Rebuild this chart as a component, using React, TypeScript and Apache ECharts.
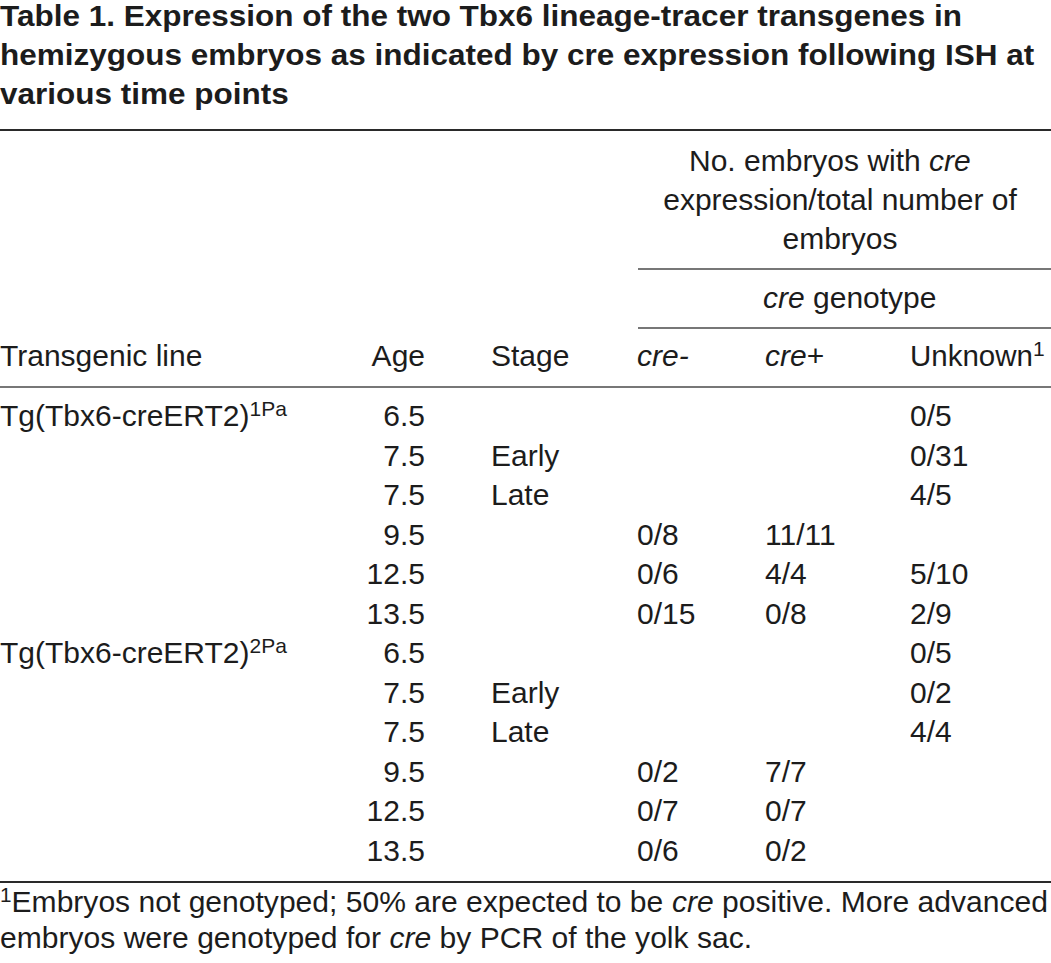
import React, { useEffect, useRef } from "react";
import * as echarts from "echarts";

const titleLines = [
  "Table 1. Expression of the two Tbx6 lineage-tracer transgenes in",
  "hemizygous embryos as indicated by cre expression following ISH at",
  "various time points",
];

const groupHeader = ["No. embryos with ", "expression/total number of", "embryos"];
const subHeader = "genotype";
const colHeaders = ["Transgenic line", "Age", "Stage", "cre-", "cre+", "Unknown"];

const lineNames = ["Tg(Tbx6-creERT2)", "", "", "", "", "", "Tg(Tbx6-creERT2)", "", "", "", "", ""];
const lineSups = ["1Pa", "", "", "", "", "", "2Pa", "", "", "", "", ""];
const ages = ["6.5", "7.5", "7.5", "9.5", "12.5", "13.5", "6.5", "7.5", "7.5", "9.5", "12.5", "13.5"];
const stages = ["", "Early", "Late", "", "", "", "", "Early", "Late", "", "", ""];
const creNeg = ["", "", "", "0/8", "0/6", "0/15", "", "", "", "0/2", "0/7", "0/6"];
const crePos = ["", "", "", "11/11", "4/4", "0/8", "", "", "", "7/7", "0/7", "0/2"];
const unknown = ["0/5", "0/31", "4/5", "", "5/10", "2/9", "0/5", "0/2", "4/4", "", "", ""];

const footLine1 = [
  { t: "1", k: "sup" },
  { t: "Embryos not genotyped; 50% are expected to be ", k: "n" },
  { t: "cre", k: "i" },
  { t: " positive. More advanced", k: "n" },
];
const footLine2 = [
  { t: "embryos were genotyped for ", k: "n" },
  { t: "cre", k: "i" },
  { t: " by PCR of the yolk sac.", k: "n" },
];

const FAMILY = '"Liberation Sans", Arial, Helvetica, sans-serif';
const INK = "#1c1c1c";

type Seg = { t: string; k: string };

export default function App() {
  const ref = useRef<HTMLDivElement>(null);
  useEffect(() => {
    document.body.style.margin = "0";
    const chart = echarts.init(ref.current!, null, { renderer: "svg" });
    const cv = document.createElement("canvas");
    const ctx = cv.getContext("2d")!;
    const mw = (text: string, size: number, weight = "normal", style = "normal") => {
      ctx.font = `${style} ${weight} ${size}px ${FAMILY}`;
      return ctx.measureText(text).width;
    };

    const els: any[] = [];
    const segSize = (k: string, size: number) => (k === "sup" ? Math.round(size * 0.7) : size);
    const segWidth = (s: Seg, size: number, weight: string) =>
      mw(s.t, segSize(s.k, size), weight, s.k === "i" ? "italic" : "normal");

    const seq = (
      segs: Seg[],
      x: number,
      baseline: number,
      o: { size?: number; weight?: string; align?: string; scale?: number } = {}
    ) => {
      const size = o.size ?? 30;
      const weight = o.weight ?? "normal";
      const scale = o.scale ?? 1;
      const total = segs.reduce((a, s) => a + segWidth(s, size, weight), 0) * scale;
      let cx = x;
      if (o.align === "right") cx = x - total;
      if (o.align === "center") cx = x - total / 2;
      segs.forEach((s) => {
        const fs = segSize(s.k, size);
        const w = segWidth(s, size, weight) * scale;
        const bl = s.k === "sup" ? baseline - size * 0.34 : baseline;
        els.push({
          type: "text",
          x: cx,
          y: bl - fs * 0.35,
          scaleX: scale,
          silent: true,
          style: {
            text: s.t,
            fontFamily: FAMILY,
            fontSize: fs,
            fontWeight: weight,
            fontStyle: s.k === "i" ? "italic" : "normal",
            fill: INK,
            align: "left",
            verticalAlign: "middle",
          },
        });
        cx += w;
      });
      return total;
    };

    const rule = (x1: number, x2: number, y: number, w: number, c: string) => {
      els.push({
        type: "line",
        silent: true,
        shape: { x1, y1: y, x2, y2: y },
        style: { stroke: c, lineWidth: w },
      });
    };

    // Title
    const tScale = 1046 / mw(titleLines[1], 30, "bold");
    titleLines.forEach((t, i) => {
      seq([{ t, k: "n" }], 0, 26 + i * 39, { weight: "bold", scale: Math.min(tScale, 1.05) });
    });

    rule(0, 1051, 130, 2, "#2a2a2a");

    // Group header
    const gCenter = 840;
    seq([{ t: groupHeader[0], k: "n" }, { t: "cre", k: "i" }], 689, 171);
    seq([{ t: groupHeader[1], k: "n" }], gCenter, 210, { align: "center" });
    seq([{ t: groupHeader[2], k: "n" }], gCenter, 249, { align: "center" });
    rule(638, 1051, 269, 1.5, "#4a4a4a");
    seq([{ t: "cre", k: "i" }, { t: " " + subHeader, k: "n" }], 763, 308);
    rule(638, 1051, 328, 1.5, "#4a4a4a");

    // Column headers
    const hb = 366;
    const colX = { line: 0, age: 425, stage: 491, neg: 637, pos: 765, unk: 910 };
    seq([{ t: colHeaders[0], k: "n" }], colX.line, hb);
    seq([{ t: colHeaders[1], k: "n" }], colX.age, hb, { align: "right" });
    seq([{ t: colHeaders[2], k: "n" }], colX.stage, hb);
    seq([{ t: "cre", k: "i" }, { t: "-", k: "i" }], colX.neg, hb);
    seq([{ t: "cre", k: "i" }, { t: "+", k: "n" }], colX.pos, hb);
    seq([{ t: colHeaders[5], k: "n" }, { t: "1", k: "sup" }], colX.unk, hb, { size: 29.5 });
    rule(0, 1051, 387, 1.5, "#4a4a4a");

    // Rows
    ages.forEach((_, i) => {
      const b = 426 + i * 39.5;
      if (lineNames[i]) seq([{ t: lineNames[i], k: "n" }, { t: lineSups[i], k: "sup" }], colX.line, b);
      seq([{ t: ages[i], k: "n" }], colX.age, b, { align: "right" });
      if (stages[i]) seq([{ t: stages[i], k: "n" }], colX.stage, b);
      if (creNeg[i]) seq([{ t: creNeg[i], k: "n" }], colX.neg, b);
      if (crePos[i]) seq([{ t: crePos[i], k: "n" }], colX.pos, b);
      if (unknown[i]) seq([{ t: unknown[i], k: "n" }], colX.unk, b);
    });

    rule(0, 1051, 882, 2, "#2a2a2a");

    // Footnote
    const fw = footLine1.reduce((a, s) => a + segWidth(s, 29, "normal"), 0);
    const fScale = 1048 / fw;
    seq(footLine1, 0, 912, { size: 29, scale: fScale });
    seq(footLine2, 0, 948, { size: 29, scale: fScale });

    chart.setOption({
      animation: false,
      backgroundColor: "#ffffff",
      graphic: { elements: els },
    });
    return () => chart.dispose();
  }, []);
  return <div ref={ref} style={{ width: 1051, height: 963 }} />;
}
